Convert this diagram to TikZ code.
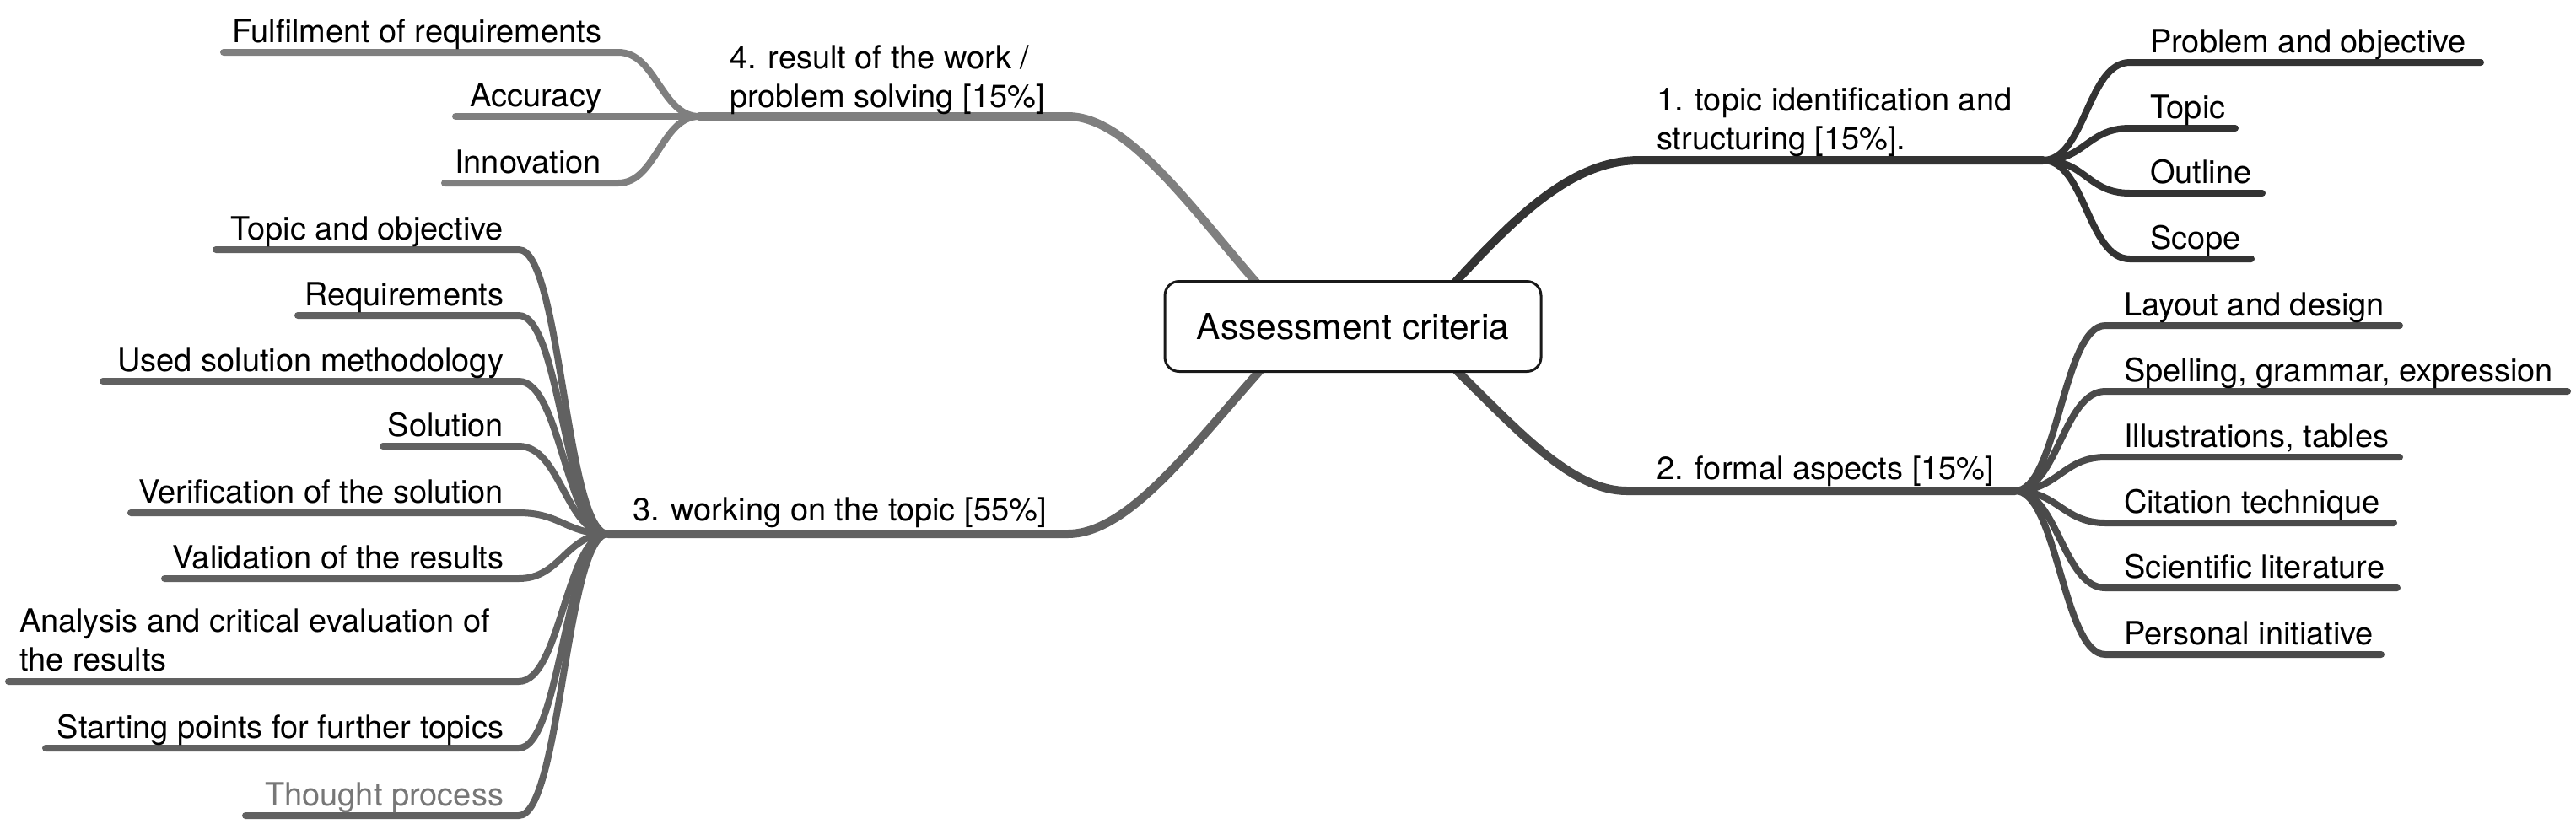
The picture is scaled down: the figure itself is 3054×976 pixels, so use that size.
\documentclass[tikz,border=0pt]{standalone}
\usepackage{fontspec}
\setmainfont{TeX Gyre Heros}
\usepackage{tikz}
\pgfdeclarelayer{background}
\pgfsetlayers{background,main}

\definecolor{branchone}{HTML}{333333}
\definecolor{branchtwo}{HTML}{4A4A4A}
\definecolor{branchthree}{HTML}{616161}
\definecolor{branchfour}{HTML}{7F7F7F}
\definecolor{greytext}{HTML}{777777}

\begin{document}
\begin{tikzpicture}[x=0.2pt,y=-0.2pt]
\tikzstyle{every node}+=[inner sep=0pt]
\tikzstyle{leaftext}=[font=\fontsize{7.6}{9.2}\selectfont]
\tikzstyle{twoline}=[font=\fontsize{7.6}{9.2}\selectfont, align=left, anchor=base west]
\tikzstyle{leaf}=[line width=1.6pt, line cap=round]
\tikzstyle{branch}=[line width=2pt, line cap=round]
\useasboundingbox (0,0) rectangle (3054,976);
% centre
\node [draw=black!90, line width=0.6pt, rounded corners=3.4pt, fill=white,
  minimum width=89.2pt, minimum height=21.4pt,
  font=\fontsize{8.5}{10}\selectfont] (root) at (1604,387) {Assessment criteria};
\coordinate (r1) at (1675,390);
\coordinate (r2) at (1675,390);
\coordinate (r3) at (1540,390);
\coordinate (r4) at (1540,390);
% main branches
\coordinate (b1) at (1944,190);
\coordinate (j1) at (2422,190);
\coordinate (b2) at (1929,582);
\coordinate (j2) at (2389,582);
\coordinate (b3) at (1266,633);
\coordinate (j3) at (721,633);
\coordinate (b4) at (1266,138);
\coordinate (j4) at (829,138);
\node [twoline] (t1) at (1963,177) {1. topic identification and\\structuring [15\%].};
\node [leaftext, anchor=base west] (t2) at (1963,568) {2. formal aspects [15\%]};
\node [leaftext, anchor=base west] (t3) at (749,617) {3. working on the topic [55\%]};
\node [twoline] (t4) at (864,127) {4. result of the work /\\problem solving [15\%]};
% 1. leaves
\coordinate (a1) at (2525,74);  \coordinate (a1e) at (2941,74);
\coordinate (a2) at (2525,152); \coordinate (a2e) at (2650,152);
\coordinate (a3) at (2525,229); \coordinate (a3e) at (2682,229);
\coordinate (a4) at (2525,307); \coordinate (a4e) at (2669,307);
\node [leaftext, anchor=base west] (ta1) at (2548,62) {Problem and objective};
\node [leaftext, anchor=base west] (ta2) at (2548,140) {Topic};
\node [leaftext, anchor=base west] (ta3) at (2548,217) {Outline};
\node [leaftext, anchor=base west] (ta4) at (2548,295) {Scope};
% 2. leaves
\coordinate (c1) at (2496,386); \coordinate (c1e) at (2845,386);
\coordinate (c2) at (2496,464); \coordinate (c2e) at (3044,464);
\coordinate (c3) at (2496,542); \coordinate (c3e) at (2845,542);
\coordinate (c4) at (2496,620); \coordinate (c4e) at (2838,620);
\coordinate (c5) at (2496,697); \coordinate (c5e) at (2842,697);
\coordinate (c6) at (2496,776); \coordinate (c6e) at (2823,776);
\node [leaftext, anchor=base west] (tc1) at (2517,374) {Layout and design};
\node [leaftext, anchor=base west] (tc2) at (2517,452) {Spelling, grammar, expression};
\node [leaftext, anchor=base west] (tc3) at (2517,530) {Illustrations, tables};
\node [leaftext, anchor=base west] (tc4) at (2517,608) {Citation technique};
\node [leaftext, anchor=base west] (tc5) at (2517,685) {Scientific literature};
\node [leaftext, anchor=base west] (tc6) at (2517,764) {Personal initiative};
% 3. leaves
\coordinate (d1) at (615,296); \coordinate (d1e) at (256,296);
\coordinate (d2) at (615,374); \coordinate (d2e) at (353,374);
\coordinate (d3) at (615,452); \coordinate (d3e) at (122,452);
\coordinate (d4) at (615,529); \coordinate (d4e) at (454,529);
\coordinate (d5) at (615,608); \coordinate (d5e) at (155,608);
\coordinate (d6) at (615,686); \coordinate (d6e) at (195,686);
\coordinate (d7) at (615,808); \coordinate (d7e) at (10,808);
\coordinate (d8) at (615,887); \coordinate (d8e) at (54,887);
\coordinate (d9) at (615,967); \coordinate (d9e) at (291,967);
\node [leaftext, anchor=base east] (td1) at (598,284) {Topic and objective};
\node [leaftext, anchor=base east] (td2) at (598,362) {Requirements};
\node [leaftext, anchor=base east] (td3) at (598,440) {Used solution methodology};
\node [leaftext, anchor=base east] (td4) at (598,517) {Solution};
\node [leaftext, anchor=base east] (td5) at (598,596) {Verification of the solution};
\node [leaftext, anchor=base east] (td6) at (598,674) {Validation of the results};
\node [twoline] (td7) at (22,795) {Analysis and critical evaluation of\\the results};
\node [leaftext, anchor=base east] (td8) at (598,875) {Starting points for further topics};
\node [leaftext, anchor=base east, text=greytext] (td9) at (598,955) {Thought process};
% 4. leaves
\coordinate (e1) at (733,62);  \coordinate (e1e) at (265,62);
\coordinate (e2) at (733,138); \coordinate (e2e) at (540,138);
\coordinate (e3) at (733,217); \coordinate (e3e) at (527,217);
\node [leaftext, anchor=base east] (te1) at (714,50) {Fulfilment of requirements};
\node [leaftext, anchor=base east] (te2) at (714,126) {Accuracy};
\node [leaftext, anchor=base east] (te3) at (714,205) {Innovation};
\begin{pgfonlayer}{background}
\draw [branch, branchone] (r1) .. controls +(100,-110) and +(-94,0) .. (b1) -- (j1);
\draw [branch, branchtwo] (r2) .. controls +(100,90) and +(-79,0) .. (b2) -- (j2);
\draw [branch, branchthree] (r3) .. controls +(-100,100) and +(84,0) .. (b3) -- (j3);
\draw [branch, branchfour] (r4) .. controls +(-100,-100) and +(84,0) .. (b4) -- (j4);
\draw [leaf, branchone] (j1) .. controls +(50,0) and +(-50,0) .. (a1) -- (a1e);
\draw [leaf, branchone] (j1) .. controls +(50,0) and +(-50,0) .. (a2) -- (a2e);
\draw [leaf, branchone] (j1) .. controls +(50,0) and +(-50,0) .. (a3) -- (a3e);
\draw [leaf, branchone] (j1) .. controls +(50,0) and +(-50,0) .. (a4) -- (a4e);
\draw [leaf, branchtwo] (j2) .. controls +(50,0) and +(-50,0) .. (c1) -- (c1e);
\draw [leaf, branchtwo] (j2) .. controls +(50,0) and +(-50,0) .. (c2) -- (c2e);
\draw [leaf, branchtwo] (j2) .. controls +(50,0) and +(-50,0) .. (c3) -- (c3e);
\draw [leaf, branchtwo] (j2) .. controls +(50,0) and +(-50,0) .. (c4) -- (c4e);
\draw [leaf, branchtwo] (j2) .. controls +(50,0) and +(-50,0) .. (c5) -- (c5e);
\draw [leaf, branchtwo] (j2) .. controls +(50,0) and +(-50,0) .. (c6) -- (c6e);
\draw [leaf, branchthree] (j3) .. controls +(-50,0) and +(50,0) .. (d1) -- (d1e);
\draw [leaf, branchthree] (j3) .. controls +(-50,0) and +(50,0) .. (d2) -- (d2e);
\draw [leaf, branchthree] (j3) .. controls +(-50,0) and +(50,0) .. (d3) -- (d3e);
\draw [leaf, branchthree] (j3) .. controls +(-50,0) and +(50,0) .. (d4) -- (d4e);
\draw [leaf, branchthree] (j3) .. controls +(-50,0) and +(50,0) .. (d5) -- (d5e);
\draw [leaf, branchthree] (j3) .. controls +(-50,0) and +(50,0) .. (d6) -- (d6e);
\draw [leaf, branchthree] (j3) .. controls +(-50,0) and +(50,0) .. (d7) -- (d7e);
\draw [leaf, branchthree] (j3) .. controls +(-50,0) and +(50,0) .. (d8) -- (d8e);
\draw [leaf, branchthree] (j3) .. controls +(-50,0) and +(50,0) .. (d9) -- (d9e);
\draw [leaf, branchfour] (j4) .. controls +(-45,0) and +(45,0) .. (e1) -- (e1e);
\draw [leaf, branchfour] (j4) .. controls +(-45,0) and +(45,0) .. (e2) -- (e2e);
\draw [leaf, branchfour] (j4) .. controls +(-45,0) and +(45,0) .. (e3) -- (e3e);
\end{pgfonlayer}
\end{tikzpicture}
\end{document}
